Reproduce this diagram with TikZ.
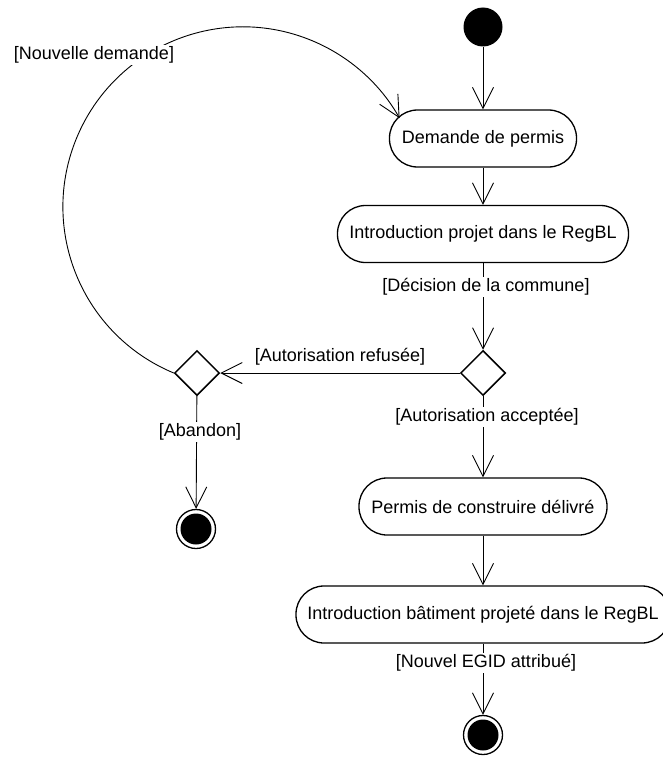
\documentclass[tikz,border=0pt]{standalone}
\usepackage{fontspec}
\setmainfont{Liberation Sans}
\usetikzlibrary{arrows.meta,shapes.geometric}
\tikzset{
  conn/.style={line width=0.9pt,-{Straight Barb[length=21pt,width=21pt,line width=0.9pt]}},
  act/.style={draw,line width=1.3pt,rectangle,rounded corners=28pt,minimum height=57pt,inner sep=0pt,font=\fontsize{18}{21}\selectfont},
  dec/.style={draw,diamond,line width=1.5pt,minimum width=45pt,minimum height=45pt,inner sep=0pt},
  guard/.style={fill=white,inner sep=1.5pt,font=\fontsize{18}{21}\selectfont},
  startn/.style={circle,fill=black,minimum size=39pt,inner sep=0pt},
  endring/.style={circle,draw,line width=1.3pt,minimum size=39pt,inner sep=0pt},
  endcore/.style={circle,fill=black,minimum size=31pt,inner sep=0pt}
}
\begin{document}
\begin{tikzpicture}[x=1pt,y=-1pt]
\useasboundingbox (0,0) rectangle (662,760);
\node[startn] (start) at (483,27) {};
\node[act,minimum width=187pt] (b1) at (483,138.5) {Demande de permis};
\node[act,minimum width=291pt] (b2) at (483,234) {Introduction projet dans le RegBL};
\node[dec] (d1) at (483,373) {};
\node[dec] (d2) at (197,373) {};
\node[act,minimum width=248pt] (b3) at (483,506.5) {Permis de construire délivré};
\node[act,minimum width=374pt] (b4) at (483,614.5) {Introduction bâtiment projeté dans le RegBL};
\node[endring] (e1) at (483,735) {};
\node[endcore] (e1c) at (483,735) {};
\node[endring] (e2) at (196,529) {};
\node[endcore] (e2c) at (196,529) {};

\draw[conn] (start) -- (b1);
\draw[conn] (b1) -- (b2);
\draw[conn] (b2) -- (d1);
\draw[conn] (d1.west) -- (d2.east);
\draw[conn] (d1) -- (b3);
\draw[conn] (b3) -- (b4);
\draw[conn] (b4) -- (e1);
\draw[conn] (d2) -- (e2);
\draw[conn] (d2.west) arc[start angle=247.4,end angle=29.5,radius=180pt];

\node[guard] (g1) at (486,287) {[Décision de la commune]};
\node[guard] (g2) at (340,357) {[Autorisation refusée]};
\node[guard] (g3) at (487,417) {[Autorisation acceptée]};
\node[guard] (g4) at (486,663) {[Nouvel EGID attribué]};
\node[guard] (g5) at (200,432) {[Abandon]};
\node[guard] (g6) at (94,55) {[Nouvelle demande]};
\end{tikzpicture}
\end{document}
